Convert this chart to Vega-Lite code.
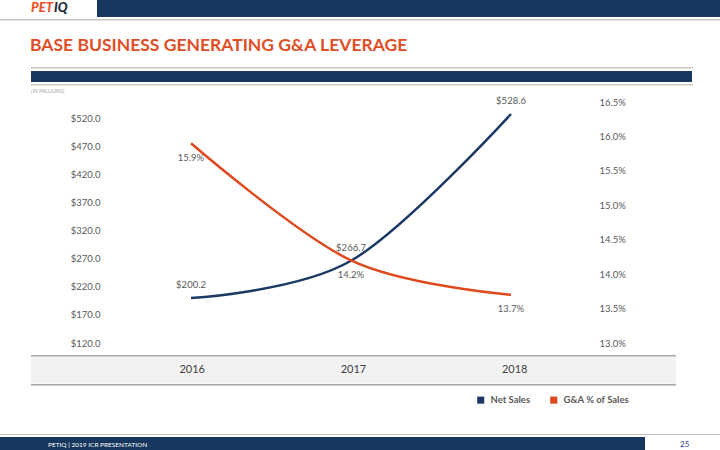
{
  "$schema": "https://vega.github.io/schema/vega-lite/v6.json",
  "padding": 0,
  "background": "white",
  "datasets": {
    "blank": [{"k": 1}],
    "sales": [
      {"year": "2016", "series": "Net Sales", "value": 200.2},
      {"year": "2017", "series": "Net Sales", "value": 266.7},
      {"year": "2018", "series": "Net Sales", "value": 528.6},
      {"year": "2016", "series": "G&A % of Sales", "value": 0.159},
      {"year": "2017", "series": "G&A % of Sales", "value": 0.142},
      {"year": "2018", "series": "G&A % of Sales", "value": 0.137}
    ]
  },
  "config": {
    "view": {"stroke": null},
    "font": "Lato",
    "concat": {"spacing": 0},
    "title": {"baseline": "alphabetic"}
  },
  "spacing": 0,
  "bounds": "full",
  "vconcat": [
    {
      "spacing": 0,
      "bounds": "flush",
      "hconcat": [
        {"width": 53, "height": 17, "data": {"name": "blank"}, "mark": {"type": "point", "filled": true, "size": 0, "opacity": 0}, "view": {"fill": null, "stroke": null},
         "title": {"text": "PET", "anchor": "end", "orient": "top", "offset": -15, "color": "#E8522A", "fontSize": 13, "fontWeight": 900, "fontStyle": "italic"}},
        {"width": 44, "height": 17, "data": {"name": "blank"}, "mark": {"type": "point", "filled": true, "size": 0, "opacity": 0}, "view": {"fill": null, "stroke": null},
         "title": {"text": "IQ", "anchor": "start", "orient": "top", "offset": -15, "dx": 1, "color": "#1B2A3A", "fontSize": 13, "fontWeight": 900, "fontStyle": "italic"}},
        {"width": 623, "height": 17, "data": {"name": "blank"}, "mark": {"type": "point", "filled": true, "size": 0, "opacity": 0}, "view": {"fill": "#17375E", "stroke": null}}
      ]
    },
    {"width": 720, "height": 2, "data": {"name": "blank"}, "mark": {"type": "point", "filled": true, "size": 0, "opacity": 0}, "view": {"fill": null, "stroke": null}},
    {"width": 720, "height": 1.5, "data": {"name": "blank"}, "mark": {"type": "point", "filled": true, "size": 0, "opacity": 0}, "view": {"fill": "#C8C8C8", "stroke": null}},
    {"width": 720, "height": 46, "data": {"name": "blank"}, "mark": {"type": "point", "filled": true, "size": 0, "opacity": 0}, "view": {"fill": null, "stroke": null},
     "title": {"text": "BASE BUSINESS GENERATING G&A LEVERAGE", "anchor": "start", "orient": "top", "dx": 30, "offset": -33.8, "fontSize": 17.5, "fontWeight": "bold", "color": "#E04E26"}},
    {
      "spacing": 0,
      "bounds": "flush",
      "hconcat": [
        {"width": 31, "height": 1, "data": {"name": "blank"}, "mark": {"type": "point", "filled": true, "size": 0, "opacity": 0}, "view": {"fill": null, "stroke": null}},
        {
          "spacing": 0,
          "bounds": "flush",
          "vconcat": [
            {"width": 662, "height": 1.5, "data": {"name": "blank"}, "mark": {"type": "point", "filled": true, "size": 0, "opacity": 0}, "view": {"fill": "#C8C8C8", "stroke": null}},
            {"width": 662, "height": 2, "data": {"name": "blank"}, "mark": {"type": "point", "filled": true, "size": 0, "opacity": 0}, "view": {"fill": null, "stroke": null}},
            {"width": 661, "height": 11, "data": {"name": "blank"}, "mark": {"type": "point", "filled": true, "size": 0, "opacity": 0}, "view": {"fill": "#17375E", "stroke": null}},
            {"width": 662, "height": 2, "data": {"name": "blank"}, "mark": {"type": "point", "filled": true, "size": 0, "opacity": 0}, "view": {"fill": null, "stroke": null}},
            {"width": 662, "height": 1.5, "data": {"name": "blank"}, "mark": {"type": "point", "filled": true, "size": 0, "opacity": 0}, "view": {"fill": "#C8C8C8", "stroke": null}},
            {"width": 662, "height": 15.5, "data": {"name": "blank"}, "mark": {"type": "point", "filled": true, "size": 0, "opacity": 0}, "view": {"fill": null, "stroke": null},
             "title": {"text": "(IN MILLIONS)", "anchor": "start", "orient": "top", "offset": -8.5, "fontSize": 5.5, "fontStyle": "italic", "fontWeight": "normal", "color": "#A6A6A6"}},
            {
              "width": 640,
              "height": 241,
              "data": {"name": "sales"},
              "encoding": {
                "x": {"field": "year", "type": "ordinal", "scale": {"type": "point", "padding": 1}, "axis": null}
              },
              "layer": [
                {
                  "transform": [{"filter": "datum.series === 'Net Sales'"}],
                  "encoding": {
                    "y": {"field": "value", "type": "quantitative",
                      "scale": {"domain": [120, 550], "nice": false, "zero": false},
                      "axis": {"orient": "left", "values": [120, 170, 220, 270, 320, 370, 420, 470, 520], "format": "$.1f", "offset": -69,
                        "domain": false, "ticks": false, "tickSize": 0, "labelPadding": 0, "grid": false, "title": null,
                        "labelColor": "#595959", "labelFontSize": 9.5, "labelFont": "Lato"}}
                  },
                  "layer": [
                    {"mark": {"type": "line", "interpolate": "cardinal", "strokeWidth": 2.5},
                     "encoding": {"color": {"field": "series", "type": "nominal",
                       "scale": {"domain": ["Net Sales", "G&A % of Sales"], "range": ["#1B3A63", "#E0481D"]},
                       "legend": {"orient": "none", "legendX": 476, "legendY": 395, "direction": "horizontal", "title": null,
                         "symbolType": "square", "symbolSize": 50, "symbolStrokeWidth": 0, "labelFontSize": 9.5, "labelFontWeight": "bold",
                         "labelColor": "#595959", "labelFont": "Lato", "columnPadding": 18, "labelOffset": 5, "padding": 0,
                         "encode": {"symbols": {"update": {"fill": {"scale": "color", "field": "value"}, "fillOpacity": {"value": 1}}}}}}}},
                    {"mark": {"type": "text", "dy": -13, "fontSize": 9.5, "color": "#595959"},
                     "encoding": {"text": {"field": "value", "type": "quantitative", "format": "$.1f"}}}
                  ]
                },
                {
                  "transform": [{"filter": "datum.series === 'G&A % of Sales'"}],
                  "encoding": {
                    "y": {"field": "value", "type": "quantitative",
                      "scale": {"domain": [0.13, 0.165], "nice": false, "zero": false},
                      "axis": {"orient": "right", "values": [0.13, 0.135, 0.14, 0.145, 0.15, 0.155, 0.16, 0.165], "format": ".1%", "offset": -72,
                        "domain": false, "ticks": false, "tickSize": 0, "labelPadding": 0, "grid": false, "title": null,
                        "labelColor": "#595959", "labelFontSize": 9.5, "labelFont": "Lato"}}
                  },
                  "layer": [
                    {"mark": {"type": "line", "interpolate": "cardinal", "strokeWidth": 2.5},
                     "encoding": {"color": {"field": "series", "type": "nominal",
                       "scale": {"domain": ["Net Sales", "G&A % of Sales"], "range": ["#1B3A63", "#E0481D"]}}}},
                    {"mark": {"type": "text", "dy": 14.5, "fontSize": 9.5, "color": "#595959"},
                     "encoding": {"text": {"field": "value", "type": "quantitative", "format": ".1%"}}}
                  ]
                }
              ],
              "resolve": {"scale": {"y": "independent"}}
            },
            {"width": 645, "height": 11.5, "data": {"name": "blank"}, "mark": {"type": "point", "filled": true, "size": 0, "opacity": 0}, "view": {"fill": null, "stroke": null}},
            {"width": 645, "height": 1.5, "data": {"name": "blank"}, "mark": {"type": "point", "filled": true, "size": 0, "opacity": 0}, "view": {"fill": "#A6A6A6", "stroke": null}},
            {"width": 645, "height": 26.5, "data": {"name": "sales"}, "transform": [{"filter": "datum.series === 'Net Sales'"}],
             "mark": {"type": "text", "fontSize": 11, "color": "#404040", "font": "Lato"},
             "encoding": {"x": {"field": "year", "type": "ordinal", "scale": {"type": "point", "padding": 1}, "axis": null}, "text": {"field": "year"}},
             "view": {"fill": "#F2F2F2", "stroke": null}},
            {"width": 645, "height": 1.5, "data": {"name": "blank"}, "mark": {"type": "point", "filled": true, "size": 0, "opacity": 0}, "view": {"fill": "#A6A6A6", "stroke": null}},
            {"width": 645, "height": 48, "data": {"name": "blank"}, "mark": {"type": "point", "filled": true, "size": 0, "opacity": 0}, "view": {"fill": null, "stroke": null}}
          ]
        }
      ]
    },
    {"width": 720, "height": 1, "data": {"name": "blank"}, "mark": {"type": "point", "filled": true, "size": 0, "opacity": 0}, "view": {"fill": "#BFBFBF", "stroke": null}},
    {"width": 720, "height": 1.5, "data": {"name": "blank"}, "mark": {"type": "point", "filled": true, "size": 0, "opacity": 0}, "view": {"fill": null, "stroke": null}},
    {
      "spacing": 0,
      "bounds": "flush",
      "hconcat": [
        {"width": 645, "height": 17.5, "data": {"name": "blank"}, "mark": {"type": "point", "filled": true, "size": 0, "opacity": 0}, "view": {"fill": "#17375E", "stroke": null},
         "title": {"text": "PETIQ | 2019 ICR PRESENTATION", "anchor": "start", "orient": "top", "dx": 48, "offset": -11, "fontSize": 6.5, "fontWeight": "normal", "color": "white"}},
        {"width": 75, "height": 17.5, "data": {"name": "blank"}, "mark": {"type": "point", "filled": true, "size": 0, "opacity": 0}, "view": {"fill": null, "stroke": null},
         "title": {"text": "25", "anchor": "start", "orient": "top", "dx": 35, "offset": -11.5, "fontSize": 8, "fontWeight": "normal", "color": "#2A3F9A"}}
      ]
    }
  ]
}
